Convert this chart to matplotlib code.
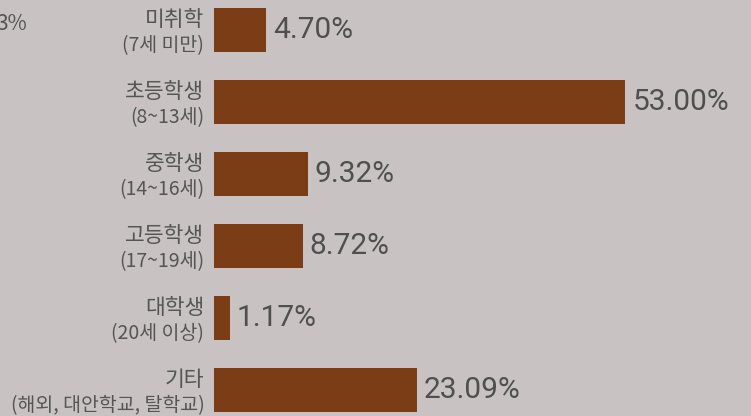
import numpy as np
import matplotlib.pyplot as plt

plt.rcParams['font.family'] = ['Noto Sans CJK KR', 'DejaVu Sans']

# data
groups = ['미취학', '초등학생', '중학생', '고등학생', '대학생', '기타']
ages = ['(7세 미만)', '(8~13세)', '(14~16세)', '(17~19세)', '(20세 이상)', '(해외, 대안학교, 탈학교)']
shares = [4.70, 53.00, 9.32, 8.72, 1.17, 23.09]

bg = '#c8c3c2'
bar_color = '#7a3d16'

fig = plt.figure(figsize=(7.51, 4.16), dpi=100, facecolor=bg)
ax = fig.add_axes([214 / 751, 0, 1 - 214 / 751, 1])
ax.set_facecolor(bg)

# bar lengths in the original are compressed for large values
p = 0.85
fwd = lambda x: np.sign(x) * np.abs(x) ** p
inv = lambda x: np.sign(x) * np.abs(x) ** (1 / p)
ax.set_xscale('function', functions=(fwd, inv))

y = np.arange(len(groups))
ax.barh(y, shares, height=0.6, color=bar_color)
ax.set_xlim(0, 72.5)
ax.set_ylim((416 - 30) / 72, -30 / 72)
ax.axis('off')

for i, v in enumerate(shares):
    ax.annotate(f'{v:.2f}%', (v, i), xytext=(5, 0), textcoords='offset points',
                ha='left', va='center', fontsize=21.5, family='Roboto',
                color='#4f4f4f')
    ax.annotate(groups[i], (0, i), xytext=(-7, 7), textcoords='offset points',
                ha='right', va='center', fontsize=15.5, color='#555555',
                annotation_clip=False)
    ax.annotate(ages[i], (0, i), xytext=(-7, -11), textcoords='offset points',
                ha='right', va='center', fontsize=14, color='#555555',
                annotation_clip=False)

# clipped label from neighbouring chart
fig.text(27 / 751, 1 - 24 / 416, '3%', ha='right', va='center', fontsize=15, color='#555555')

fig.savefig('out.png', dpi=100, facecolor=bg)
